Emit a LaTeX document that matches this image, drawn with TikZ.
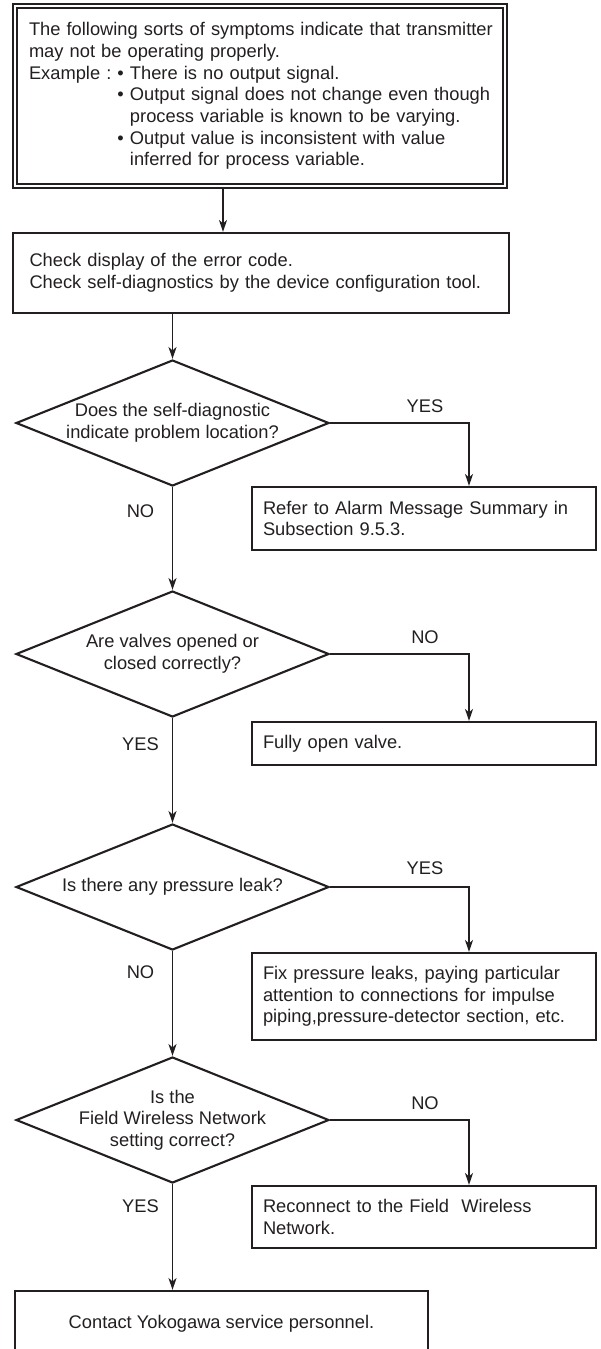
\documentclass[tikz,border=0pt]{standalone}
\usepackage{fontspec}
\setmainfont{Liberation Sans}
\usepackage{tikz}
\usetikzlibrary{shapes.geometric, arrows.meta, fit, calc, positioning}
\definecolor{ink}{RGB}{35,31,32}
\frenchspacing
\tikzset{
	flowtext/.style={font=\fontsize{18.3pt}{21.7pt}\selectfont, text=ink}
}
\tikzset{
	flowbox/.style={draw=ink, line width=2.1pt, flowtext, align=left, inner ysep=0pt},
	rightbox/.style={flowbox, minimum width=344pt, text width=322pt, inner xsep=11pt},
	querydia/.style={diamond, draw=ink, line width=2.1pt, minimum width=313pt, minimum height=126pt, inner sep=0pt},
	querytext/.style={flowtext, align=center},
	anstext/.style={flowtext},
	flowline/.style={draw=ink, line width=1.3pt, -{Stealth[length=12pt,width=8pt,inset=3.5pt]}}
}
\newcommand{\exgap}{\phantom{Example :\ }}

\begin{document}
\begin{tikzpicture}[x=1pt, y=-1pt]
  \useasboundingbox (0,0) rectangle (601,1349);
  \clip (0,0) rectangle (601,1349);
  \coordinate (topdrop) at (223,0);
  \coordinate (rcol) at (469,0);
  % symptoms, double frame
  \node[flowbox, line width=1.3pt, minimum width=486pt, minimum height=176pt, text width=462pt, inner xsep=12pt] (sym) at (260,96) {\mbox{The following sorts of symptoms indicate that transmitter}\\ may not be operating properly.\\ Example : • There is no output signal.\\ \mbox{\exgap• Output signal does not change even though}\\ \mbox{\exgap\phantom{•\ }process variable is known to be varying.}\\ \exgap• Output value is inconsistent with value\\ \exgap\phantom{•\ }inferred for process variable.};
  \node[draw=ink, line width=2.4pt, fit=(sym), inner sep=3.6pt] (symframe) {};
  \node[flowbox, minimum width=496pt, minimum height=80pt, text width=463pt, inner xsep=16.5pt] (chk) at (261,273) {Check display of the error code.\\ Check self-diagnostics by the device configuration tool.};
  \draw[flowline] (symframe.south -| topdrop) -- (chk.north -| topdrop);

  % question 1
  \node[querydia] (q1) at (172.5,423) {};
  \node[querytext] (q1t) at (q1) {Does the self-diagnostic\\ indicate problem location?};
  \node[rightbox, minimum height=63pt] (r1) at (424,518.5) {Refer to Alarm Message Summary in\\ Subsection 9.5.3.};
  \draw[flowline] (chk.south -| q1.north) -- (q1.north);
  \draw[flowline] (q1.east) -| (rcol |- r1.north);
  \node[anstext] (q1y) at ($(q1.east -| rcol)+(-44,-17)$) {YES};
  \node[anstext] (q1n) at ($(q1.south)+(-32,24)$) {NO};

  % question 2
  \node[querydia] (q2) at (172.5,654) {};
  \node[querytext] (q2t) at (q2) {Are valves opened or\\ closed correctly?};
  \node[rightbox, minimum height=43pt] (r2) at (424,743.5) {Fully open valve.};
  \draw[flowline] (q1.south) -- (q2.north);
  \draw[flowline] (q2.east) -| (rcol |- r2.north);
  \node[anstext] (q2n) at ($(q2.east -| rcol)+(-44,-17)$) {NO};
  \node[anstext] (q2y) at ($(q2.south)+(-32,26)$) {YES};

  % question 3
  \node[querydia] (q3) at (172.5,887) {};
  \node[querytext] (q3t) at (q3) {Is there any pressure leak?};
  \node[rightbox, minimum height=87pt] (r3) at (424,996.5) {Fix pressure leaks, paying particular\\ attention to connections for impulse\\ piping,pressure-detector section, etc.};
  \draw[flowline] (q2.south) -- (q3.north);
  \draw[flowline] (q3.east) -| (rcol |- r3.north);
  \node[anstext] (q3y) at ($(q3.east -| rcol)+(-44,-19)$) {YES};
  \node[anstext] (q3n) at ($(q3.south)+(-32,21)$) {NO};

  % question 4
  \node[querydia] (q4) at (172.5,1120) {};
  \node[querytext] (q4t) at (q4) {Is the\\ Field Wireless Network\\ setting correct?};
  \node[rightbox, minimum height=62pt] (r4) at (424,1217) {Reconnect to the Field~ Wireless\\ Network.};
  \draw[flowline] (q3.south) -- (q4.north);
  \draw[flowline] (q4.east) -| (rcol |- r4.north);
  \node[anstext] (q4n) at ($(q4.east -| rcol)+(-44,-17)$) {NO};
  \node[anstext] (q4y) at ($(q4.south)+(-32,22)$) {YES};

  \node[flowbox, minimum width=413pt, minimum height=66pt, align=center] (fin) at (221.5,1324) {Contact Yokogawa service personnel.};
  \draw[flowline] (q4.south) -- (fin.north -| q4.south);
\end{tikzpicture}
\end{document}
